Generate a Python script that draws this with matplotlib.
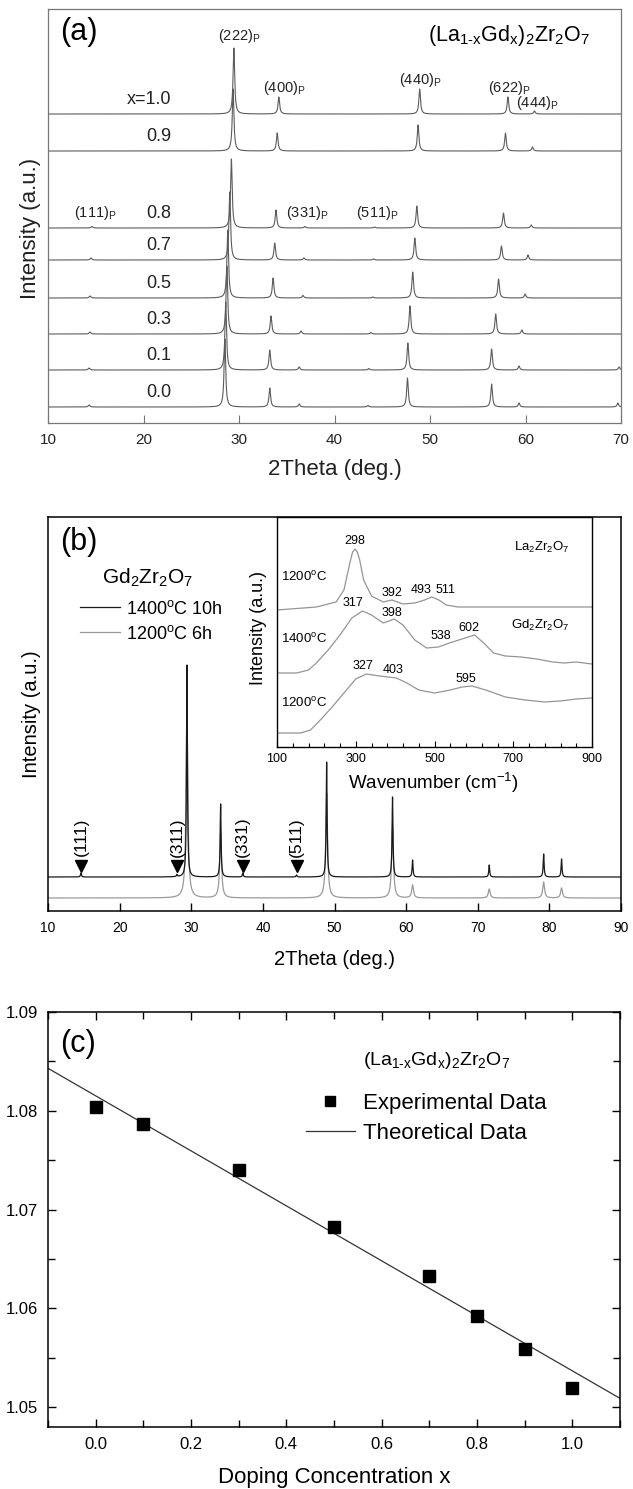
import numpy as np
import matplotlib
matplotlib.use('Agg')
import matplotlib.pyplot as plt
from matplotlib.ticker import MultipleLocator, FormatStrFormatter

plt.rcParams['font.family'] = ['Liberation Sans', 'DejaVu Sans']
plt.rcParams['mathtext.fontset'] = 'custom'
plt.rcParams['mathtext.rm'] = 'Liberation Sans'
plt.rcParams['mathtext.it'] = 'Liberation Sans:italic'
plt.rcParams['mathtext.bf'] = 'Liberation Sans:bold'

# ---------------- Panel (a): XRD of (La1-xGdx)2Zr2O7 ----------------
comp_labels = ['0.0', '0.1', '0.3', '0.5', '0.7', '0.8', '0.9', 'x=1.0']
comp_offsets = [16, 53, 89, 125, 163, 195, 272, 309]
pos_111 = [14.3, 14.3, 14.4, 14.4, 14.5, 14.6, 14.7, 14.7]
h_111 = [2, 2, 2, 2, 2, 1.5, 0, 0]
pos_222 = [28.52, 28.61, 28.73, 28.82, 29.03, 29.20, 29.38, 29.46]
h_222 = [68, 68, 68, 68, 68, 69, 62, 66]
pos_400 = [33.22, 33.22, 33.35, 33.57, 33.74, 33.87, 34.00, 34.17]
h_400 = [19, 20, 18, 20, 17, 18, 18, 17]
pos_331 = [36.3, 36.3, 36.5, 36.7, 36.8, 36.9, 37.0, 37.1]
h_331 = [3, 3, 3, 2.5, 2, 1.5, 0, 0]
pos_511 = [43.5, 43.6, 43.8, 44.0, 44.1, 44.2, 44.3, 44.4]
h_511 = [1.5, 1.5, 1.5, 1, 1, 1, 0, 0]
pos_440 = [47.64, 47.68, 47.90, 48.19, 48.41, 48.62, 48.75, 48.92]
h_440 = [29, 27, 28, 26, 22, 22, 26, 25]
pos_622 = [56.45, 56.45, 56.88, 57.18, 57.48, 57.69, 57.90, 58.16]
h_622 = [23, 21, 20, 19, 14, 15, 18, 17]
pos_444 = [59.32, 59.32, 59.62, 59.96, 60.26, 60.60, 60.73, 60.94]
h_444 = [4, 4, 4, 4, 5, 3, 4, 3]
pos_800 = [69.67, 69.8, 70.2, 70.5, 70.8, 71.1, 71.3, 71.5]
h_800 = [4, 3, 0, 0, 0, 0, 0, 0]
peak_labels_a = ['(111)', '(222)', '(331)', '(400)', '(511)', '(440)', '(622)', '(444)']
peak_label_x_a = [15.0, 30.0, 37.2, 34.7, 44.5, 49.0, 58.3, 61.2]
peak_label_y_a = [210, 387, 210, 335, 210, 343, 335, 320]

# ---------------- Panel (b): XRD of Gd2Zr2O7 ----------------
b_pos = [14.6, 28.0, 29.4, 34.1, 37.2, 44.7, 48.9, 58.1, 60.9, 71.6, 79.2, 81.7]
b_h_1400 = [4, 2, 212, 73, 4, 2, 115, 80, 17, 12, 23, 18]
b_h_1200 = [0, 0, 190, 65, 0, 0, 105, 72, 13, 9, 16, 10]
b_offsets = [34, 13]
b_series = ['1400$^{\\mathregular{o}}$C 10h', '1200$^{\\mathregular{o}}$C 6h']
b_marks = ['(111)', '(311)', '(331)', '(511)']
b_mark_pos = [14.6, 28.0, 37.2, 44.7]

# ---------------- Inset: Raman ----------------
la1200_wn = [100, 200, 250, 270, 285, 292, 298, 304, 310, 320, 340, 370, 392, 420, 450,
             475, 493, 511, 530, 560, 700, 900]
la1200_i = [137, 140, 145, 157, 184, 195, 198, 195, 187, 167, 151, 145, 147, 143, 144,
            147, 150, 147, 142, 140, 140, 140]
gd1400_wn = [100, 150, 180, 200, 230, 260, 290, 317, 340, 370, 398, 420, 450, 480, 510,
             538, 570, 602, 625, 650, 680, 720, 760, 800, 830, 860, 880, 900]
gd1400_i = [74, 74, 77, 84, 97, 112, 129, 136, 132, 124, 128, 122, 107, 99, 100,
            104, 108, 112, 104, 94, 91, 90, 88, 85, 84, 85, 84, 83]
gd1200_wn = [100, 160, 185, 210, 240, 270, 300, 327, 360, 403, 430, 460, 500, 540, 570,
             595, 630, 680, 730, 780, 820, 860, 900]
gd1200_i = [14, 14, 17, 27, 40, 54, 68, 73, 71, 69, 64, 57, 54, 57, 60,
            61, 57, 50, 47, 45, 46, 48, 49]
raman_labels = ['298', '392', '493', '511', '317', '398', '538', '602', '327', '403', '595']
raman_label_x = [298, 392, 466, 527, 293, 392, 516, 587, 318, 394, 580]
raman_label_y = [206, 154, 157, 157, 144, 134, 111, 119, 81, 77, 68]

# ---------------- Panel (c): lattice parameter ----------------
dop_x = [0.0, 0.1, 0.3, 0.5, 0.7, 0.8, 0.9, 1.0]
exp_y = [1.0804, 1.0787, 1.0740, 1.0682, 1.0633, 1.0592, 1.0559, 1.0519]
theory_x = [-0.1, 1.1]
theory_y = [1.0843, 1.0509]


def lorentz_sum(x, positions, heights, width):
    y = np.zeros_like(x)
    for p, h in zip(positions, heights):
        if h > 0:
            y += h / (1.0 + ((x - p) / (width / 2.0)) ** 2)
    return y


W, H = 633, 1489
fig = plt.figure(figsize=(W / 100, H / 100), dpi=100)

def fx(px):
    return px / W

def fy(py):
    return 1 - py / H

formula = ('(La$_{\\mathregular{1\\text{-}x}}$Gd$_{\\mathregular{x}}$)$_{\\mathregular{2}}$'
           'Zr$_{\\mathregular{2}}$O$_{\\mathregular{7}}$')

# ===== Panel (a) =====
axa = fig.add_axes([fx(48), fy(423), fx(621) - fx(48), fy(9) - fy(423)])
tt = np.linspace(10, 70, 6001)
gray_a = '#5c5c5c'
for i in range(len(comp_labels)):
    pos = [pos_111[i], pos_222[i], pos_331[i], pos_400[i], pos_511[i],
           pos_440[i], pos_622[i], pos_444[i], pos_800[i]]
    hh = [h_111[i], h_222[i], h_331[i], h_400[i], h_511[i],
          h_440[i], h_622[i], h_444[i], h_800[i]]
    axa.plot(tt, comp_offsets[i] + lorentz_sum(tt, pos, hh, 0.2), color=gray_a, lw=0.8)
    axa.text(22.9, comp_offsets[i] + 14.5, comp_labels[i], ha='right', va='center',
             fontsize=13, color='#222222')
for lab, x, y in zip(peak_labels_a, peak_label_x_a, peak_label_y_a):
    axa.text(x, y, lab + '$_{\\mathregular{P}}$', ha='center', va='center', fontsize=10.5,
             color='#222222')
axa.set_xlim(10, 70)
axa.set_ylim(0, 414)
axa.set_yticks([])
axa.xaxis.set_major_locator(MultipleLocator(10))
axa.tick_params(axis='x', direction='in', length=6, width=0.8, labelsize=11, pad=7,
                colors='#777777', labelcolor='#222222')
for s in axa.spines.values():
    s.set_color('#777777')
    s.set_linewidth(0.9)
axa.set_xlabel('2Theta (deg.)', fontsize=16, color='#222222')
axa.xaxis.set_label_coords(0.5, -0.088)
axa.set_ylabel('Intensity (a.u.)', fontsize=16, color='#222222')
axa.yaxis.set_label_coords(-0.012, 0.47)
axa.text(0.021, 0.944, '(a)', transform=axa.transAxes, fontsize=22, va='center', ha='left')
axa.text(0.663, 0.937, formula, transform=axa.transAxes, fontsize=15.5, va='center', ha='left')

# ===== Panel (b) =====
axb = fig.add_axes([fx(48), fy(911), fx(621) - fx(48), fy(517) - fy(911)])
tb = np.linspace(10, 90, 8001)
l1200, = axb.plot(tb, b_offsets[1] + lorentz_sum(tb, b_pos, b_h_1200, 0.3),
                  color='#9a9a9a', lw=0.9, label=b_series[1])
l1400, = axb.plot(tb, b_offsets[0] + lorentz_sum(tb, b_pos, b_h_1400, 0.15),
                  color='#1a1a1a', lw=0.9, label=b_series[0])
axb.plot(b_mark_pos, [45] * len(b_mark_pos), 'v', color='black', ms=8, linestyle='none')
for lab, x in zip(b_marks, b_mark_pos):
    axb.text(x, 74, lab, rotation=90, ha='center', va='center', fontsize=12.5)
axb.set_xlim(10, 90)
axb.set_ylim(0, 394)
axb.set_yticks([])
axb.xaxis.set_major_locator(MultipleLocator(10))
axb.tick_params(axis='x', direction='in', length=6, width=1, labelsize=10, pad=7)
for s in axb.spines.values():
    s.set_linewidth(1.1)
axb.set_xlabel('2Theta (deg.)', fontsize=14.5)
axb.xaxis.set_label_coords(0.5, -0.098)
axb.set_ylabel('Intensity (a.u.)', fontsize=14.5)
axb.yaxis.set_label_coords(-0.012, 0.50)
axb.text(0.021, 0.937, '(b)', transform=axb.transAxes, fontsize=22, va='center', ha='left')
axb.text(0.173, 0.845, 'Gd$_{\\mathregular{2}}$Zr$_{\\mathregular{2}}$O$_{\\mathregular{7}}$',
         transform=axb.transAxes, fontsize=15, va='center', ha='center')
axb.legend(handles=[l1400, l1200], loc='upper left', bbox_to_anchor=(0.0558, 0.79),
           frameon=False, fontsize=13, handlelength=2.2, handletextpad=0.33,
           borderpad=0, borderaxespad=0, labelspacing=0.38)

# inset
axi = fig.add_axes([fx(277), fy(747), fx(592) - fx(277), fy(517) - fy(747)])
axi.set_zorder(5)
axi.set_facecolor('white')
gi = '#959595'
axi.plot(la1200_wn, la1200_i, color=gi, lw=0.9)
axi.plot(gd1400_wn, gd1400_i, color=gi, lw=0.9)
axi.plot(gd1200_wn, gd1200_i, color=gi, lw=0.9)
for lab, x, y in zip(raman_labels, raman_label_x, raman_label_y):
    axi.text(x, y, lab, ha='center', va='center', fontsize=9)
axi.text(844, 200, 'La$_{\\mathregular{2}}$Zr$_{\\mathregular{2}}$O$_{\\mathregular{7}}$',
         ha='right', va='center', fontsize=9.5)
axi.text(844, 122, 'Gd$_{\\mathregular{2}}$Zr$_{\\mathregular{2}}$O$_{\\mathregular{7}}$',
         ha='right', va='center', fontsize=9.5)
axi.text(110, 170, '1200$^{\\mathregular{o}}$C', ha='left', va='center', fontsize=9.5)
axi.text(110, 108, '1400$^{\\mathregular{o}}$C', ha='left', va='center', fontsize=9.5)
axi.text(110, 44, '1200$^{\\mathregular{o}}$C', ha='left', va='center', fontsize=9.5)
axi.set_xlim(100, 900)
axi.set_ylim(0, 230)
axi.set_yticks([])
axi.xaxis.set_major_locator(MultipleLocator(200, offset=100))
axi.xaxis.set_minor_locator(MultipleLocator(40, offset=20))
axi.tick_params(axis='x', which='major', direction='in', length=4.5, width=0.8,
                labelsize=9, pad=4)
axi.tick_params(axis='x', which='minor', direction='in', length=3, width=0.8)
for s in axi.spines.values():
    s.set_linewidth(1.0)
axi.set_xlabel('Wavenumber (cm$^{\\mathregular{-1}}$)', fontsize=13.5)
axi.xaxis.set_label_coords(0.495, -0.104)
axi.set_ylabel('Intensity (a.u.)', fontsize=13)
axi.yaxis.set_label_coords(-0.032, 0.517)

# ===== Panel (c) =====
axc = fig.add_axes([fx(48), fy(1427), fx(620) - fx(48), fy(1012) - fy(1427)])
lt, = axc.plot(theory_x, theory_y, color='#333333', lw=0.9, label='Theoretical Data')
le, = axc.plot(dop_x, exp_y, 's', color='black', ms=8.5, linestyle='none',
               label='Experimental Data')
axc.set_xlim(-0.1, 1.1)
axc.set_ylim(1.048, 1.09)
axc.xaxis.set_major_locator(MultipleLocator(0.2))
axc.xaxis.set_minor_locator(MultipleLocator(0.1))
axc.yaxis.set_major_locator(MultipleLocator(0.01))
axc.yaxis.set_minor_locator(MultipleLocator(0.005))
axc.xaxis.set_major_formatter(FormatStrFormatter('%.1f'))
axc.yaxis.set_major_formatter(FormatStrFormatter('%.2f'))
axc.tick_params(which='both', direction='in', top=True, right=True, width=1)
axc.tick_params(which='major', length=6, labelsize=12, pad=7)
axc.tick_params(which='minor', length=5)
for s in axc.spines.values():
    s.set_linewidth(1.1)
axc.set_xlabel('Doping Concentration x', fontsize=16)
axc.xaxis.set_label_coords(0.5, -0.096)
axc.text(0.021, 0.923, '(c)', transform=axc.transAxes, fontsize=22, va='center', ha='left')
axc.text(0.551, 0.884, formula, transform=axc.transAxes, fontsize=14, va='center', ha='left')
axc.legend(handles=[le, lt], loc='upper left', bbox_to_anchor=(0.451, 0.805),
           frameon=False, fontsize=16, handlelength=2.2, handletextpad=0.36,
           borderpad=0, borderaxespad=0, labelspacing=0.4, markerscale=0.85)

fig.savefig('out.png', dpi=100)
